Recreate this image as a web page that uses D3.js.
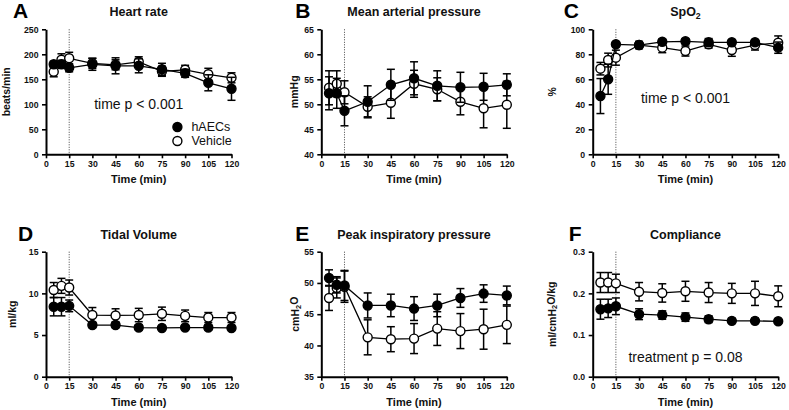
<!DOCTYPE html>
<html><head><meta charset="utf-8">
<script src="https://cdn.jsdelivr.net/npm/d3@7"></script>
<style>
body{margin:0;background:#fff;}
svg{display:block;font-family:"Liberation Sans",Arial,Helvetica,sans-serif;}
</style></head>
<body><svg id="c" width="789" height="410"></svg>
<script>
// ---- data ----
const times = [5,10,15,30,45,60,75,90,105,120];
const xTicks = [0,15,30,45,60,75,90,105,120];
const seriesNames = ["hAECs","Vehicle"];

const hrHaec = [180,180,173,180,177,177,170,162,143,131];
const hrHaecErr = [6,8,8,12,16,14,12,8,16,23];
const hrVeh = [165,189,192,182,179,185,166,169,160,153];
const hrVehErr = [10,12,12,10,10,10,10,9,12,10];

const mapHaec = [52.2,52.2,48.7,50.5,53.9,55.2,53.7,53.4,53.5,53.9];
const mapHaecErr = [3.3,3.0,3.0,3.2,3.1,3.3,3.0,3.0,2.7,2.2];
const mapVeh = [53.3,54.1,52.4,49.5,50.3,54.1,53.0,50.5,49.2,49.9];
const mapVehErr = [3.4,2.6,2.3,2.0,3.1,2.7,2.3,2.6,3.9,4.7];

const spoHaec = [46.6,60,88,87.4,90,90.4,89.6,89.6,89.6,85.3];
const spoHaecErr = [14,12,2,3,2,2,3,2,2,4.5];
const spoVeh = [68.5,75.4,77.3,87.4,85.3,82.6,88,83.4,87.4,89.2];
const spoVehErr = [5,5.5,6,2,4,4,3,5,4,5.5];

const tvHaec = [8.4,8.4,8.5,6.2,6.2,5.9,5.85,5.9,5.9,5.85];
const tvHaecErr = [1.1,1.1,0.7,0.3,0.3,0.3,0.2,0.2,0.3,0.2];
const tvVeh = [10.4,10.9,10.7,7.4,7.35,7.4,7.55,7.3,7.1,7.1];
const tvVehErr = [0.9,0.9,0.9,0.9,0.8,0.8,0.8,0.7,0.6,0.6];

const pipHaec = [50.8,49.7,49.6,46.4,46.4,45.9,46.4,47.6,48.3,48.0];
const pipHaecErr = [1.3,1.3,2.4,2.0,1.8,1.9,1.8,1.5,1.4,1.5];
const pipVeh = [47.6,49.2,49.4,41.3,41.0,41.1,42.7,42.3,42.6,43.3];
const pipVehErr = [2.0,1.6,2.5,2.8,2.0,2.4,2.7,2.8,3.2,3.0];

const compHaec = [0.162,0.164,0.169,0.150,0.148,0.143,0.138,0.134,0.134,0.133];
const compHaecErr = [0.024,0.022,0.020,0.013,0.010,0.010,0.008,0.006,0.006,0.004];
const compVeh = [0.226,0.226,0.224,0.204,0.201,0.205,0.202,0.200,0.200,0.193];
const compVehErr = [0.024,0.024,0.022,0.022,0.022,0.024,0.024,0.024,0.029,0.025];

const panelLetters = ["A","B","C","D","E","F"];
const panelTitles = ["Heart rate","Mean arterial pressure","SpO|2","Tidal Volume","Peak inspiratory pressure","Compliance"];
const yLabels = ["beats/min","mmHg","%","ml/kg","cmH|2|O","ml/cmH|2|O/kg"];
const yTicksA = [0,50,100,150,200,250];
const yTicksB = [40,45,50,55,60,65];
const yTicksC = [0,20,40,60,80,100];
const yTicksD = [0,5,10,15];
const yTicksE = [35,40,45,50,55];
const yTicksF = [0.0,0.1,0.2,0.3];
const annotations = ["time p < 0.001","","time p < 0.001","","","treatment p = 0.08"];

// ---- layout ----
const svg = d3.select("#c");
const colX = [46, 321.3, 592.7];
const rowY = [29.3, 251.7];
const pw = 185.5, ph = 125;
const ylabX = [-39,-26,-40,-33,-25,-40];
const letterX = [-33,-26,-29,-28,-26,-24];

const panels = [
  {h:hrHaec,he:hrHaecErr,v:hrVeh,ve:hrVehErr,ticks:yTicksA,fmt:d3.format("d")},
  {h:mapHaec,he:mapHaecErr,v:mapVeh,ve:mapVehErr,ticks:yTicksB,fmt:d3.format("d")},
  {h:spoHaec,he:spoHaecErr,v:spoVeh,ve:spoVehErr,ticks:yTicksC,fmt:d3.format("d")},
  {h:tvHaec,he:tvHaecErr,v:tvVeh,ve:tvVehErr,ticks:yTicksD,fmt:d3.format("d")},
  {h:pipHaec,he:pipHaecErr,v:pipVeh,ve:pipVehErr,ticks:yTicksE,fmt:d3.format("d")},
  {h:compHaec,he:compHaecErr,v:compVeh,ve:compVehErr,ticks:yTicksF,fmt:d3.format(".1f")}
];

function richText(sel, str){
  const parts = str.split("|");
  parts.forEach((p,i)=>{
    if(!p) return;
    const sub = i%2===1;
    sel.append("tspan").text(p)
      .attr("font-size", sub ? "0.7em" : null)
      .attr("dy", sub ? "0.3em" : (i>0 ? "-0.3em" : null));
  });
}

panels.forEach((p,i)=>{
  const col = i%3, row = Math.floor(i/3);
  const g = svg.append("g").attr("transform",`translate(${colX[col]},${rowY[row]})`);
  const x = d3.scaleLinear().domain([0,120]).range([0,pw]);
  const y = d3.scaleLinear().domain([p.ticks[0], p.ticks[p.ticks.length-1]]).range([ph,0]);

  // axes
  const xa = g.append("g").attr("transform",`translate(0,${ph})`)
    .call(d3.axisBottom(x).tickValues(xTicks).tickSize(4).tickSizeOuter(0).tickPadding(2.5));
  const ya = g.append("g")
    .call(d3.axisLeft(y).tickValues(p.ticks).tickFormat(p.fmt).tickSize(4).tickSizeOuter(0).tickPadding(3.5));
  [xa,ya].forEach(a=>{
    a.select(".domain").attr("stroke","#000").attr("stroke-width",2);
    a.selectAll(".tick line").attr("stroke","#000").attr("stroke-width",1.6);
    a.selectAll(".tick text").attr("fill","#111").attr("font-size",8.7).attr("font-weight","bold")
      .attr("font-family","'Liberation Sans',Arial,sans-serif");
  });

  // dotted line at 15
  g.append("line").attr("x1",x(15)).attr("x2",x(15)).attr("y1",0).attr("y2",ph)
    .attr("stroke","#444").attr("stroke-width",1).attr("stroke-dasharray","1,1.5");

  // series: vehicle first, hAECs on top
  const ser = [{vals:p.v,err:p.ve,fill:"#fff"},{vals:p.h,err:p.he,fill:"#000"}];
  ser.forEach(s=>{
    const pts = times.map((t,k)=>({t,v:s.vals[k],e:s.err[k]}));
    const eb = g.append("g").attr("stroke","#000").attr("stroke-width",1.5);
    pts.forEach(d=>{
      const cx = x(d.t), y1 = y(d.v - d.e), y2 = y(d.v + d.e);
      eb.append("line").attr("x1",cx).attr("x2",cx).attr("y1",y1).attr("y2",y2);
      eb.append("line").attr("x1",cx-4).attr("x2",cx+4).attr("y1",y1).attr("y2",y1);
      eb.append("line").attr("x1",cx-4).attr("x2",cx+4).attr("y1",y2).attr("y2",y2);
    });
    g.append("path").datum(pts)
      .attr("d",d3.line().x(d=>x(d.t)).y(d=>y(d.v)))
      .attr("fill","none").attr("stroke","#000").attr("stroke-width",1.3);
    g.selectAll(null).data(pts).enter().append("circle")
      .attr("cx",d=>x(d.t)).attr("cy",d=>y(d.v)).attr("r",4.5)
      .attr("fill",s.fill).attr("stroke","#000").attr("stroke-width",1.4);
  });

  // title
  const tt = g.append("text").attr("x",pw/2).attr("y",-13).attr("text-anchor","middle")
    .attr("font-size",12.5).attr("font-weight","bold").attr("fill","#111");
  richText(tt, panelTitles[i]);
  // letter
  g.append("text").attr("x",letterX[i]).attr("y",-11).attr("font-size",21).attr("font-weight","bold")
    .attr("fill","#000").text(panelLetters[i]);
  // x label
  g.append("text").attr("x",pw/2).attr("y",ph+29).attr("text-anchor","middle")
    .attr("font-size",11).attr("font-weight","bold").attr("fill","#111").text("Time (min)");
  // y label
  const yl = g.append("text").attr("transform",`translate(${ylabX[i]},${ph/2}) rotate(-90)`)
    .attr("text-anchor","middle").attr("dominant-baseline","middle")
    .attr("font-size",10.5).attr("font-weight","bold").attr("fill","#111");
  richText(yl, yLabels[i]);

  if(annotations[i]){
    g.append("text").attr("x",pw/2).attr("y", i===5 ? ph-15 : 80 - (i===2?6:0))
      .attr("text-anchor","middle").attr("font-size",14).attr("fill","#111").text(annotations[i]);
  }
  if(i===0){
    const lg = g.append("g").attr("transform",`translate(${x(85)},${y(54.5)})`);
    seriesNames.forEach((n,k)=>{
      lg.append("circle").attr("cx",0).attr("cy",k*14).attr("r",4.5)
        .attr("fill",k===0?"#000":"#fff").attr("stroke","#000").attr("stroke-width",1.4);
      lg.append("text").attr("x",14).attr("y",k*14).attr("dy","0.35em")
        .attr("font-size",12.5).attr("fill","#111").text(n);
    });
  }
});
</script>
</body></html>
